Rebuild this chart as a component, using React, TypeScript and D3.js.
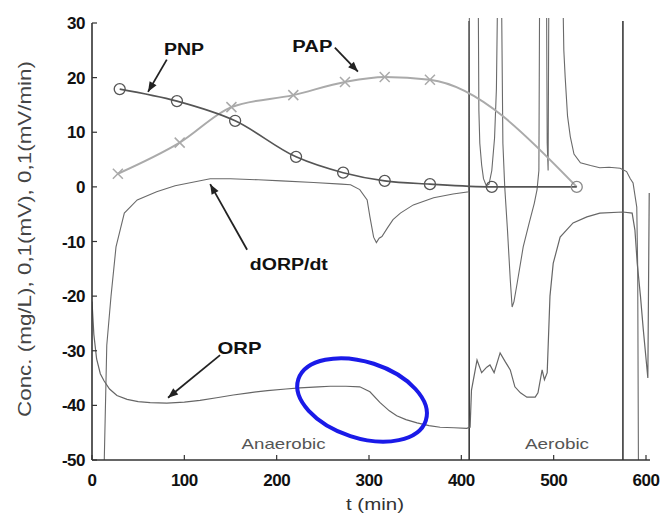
import React from "react";
import * as d3 from "d3";

// ---------- data ----------
const pnpT = [30, 92, 155, 221, 272, 317, 366, 433, 525];
const pnpV = [17.9, 15.7, 12.1, 5.5, 2.6, 1.1, 0.5, 0, 0];

const papT = [28, 95, 151, 218, 274, 317, 366, 525];
const papV = [2.4, 8.1, 14.6, 16.8, 19.2, 20.1, 19.6, 0];

const orpT = [0, 2, 5, 9, 13, 19, 27, 38, 50, 63, 81, 100, 117, 135, 153, 170, 190, 210, 225, 245, 258, 275, 290, 301, 312, 322, 330, 340, 352, 365, 377, 392, 406, 408.5,
  409.5, 411, 417, 422, 427.5, 431, 435.5, 442, 447.5, 453, 458, 464, 471, 480, 483, 487.5, 490, 493, 494, 496, 499.5, 507, 521, 536, 550, 575, 585, 588, 590.5, 594, 597, 602, 603.5];
const orpV = [-21, -27, -31.5, -34.2, -35.5, -37, -38.2, -38.9, -39.3, -39.5, -39.6, -39.4, -39.1, -38.6, -38.1, -37.7, -37.3, -37.0, -36.8, -36.6, -36.5, -36.5, -36.6, -37.5, -39.5, -41.0, -41.9, -42.6, -43.2, -43.7, -44.0, -44.1, -44.2, -44.0,
  -44, -37.2, -31.7, -34, -33, -32.6, -34, -30.4, -32, -33.5, -36.6, -37.7, -38.5, -38.5, -37.7, -33.5, -35.3, -34, -29.3, -20, -14, -9.2, -6.6, -5.5, -4.8, -4.6, -4.8, -7.9, -14, -20, -26, -35, -1.1];

const dorpT = [12, 16, 20.6, 26, 35, 49, 70, 90, 128, 150, 180, 205, 240, 270, 280, 290, 298, 301, 305, 308, 311, 314, 320, 326, 334, 348, 370, 391, 408,
  409, 418, 419, 420, 422, 424, 427, 430, 433, 436, 438, 440, 443, 445, 447, 450, 453, 455, 457, 460.5, 467, 473.5, 479, 482, 484, 485, 492, 493, 494, 495, 509,
  511, 512.5, 515, 518, 522, 529, 540, 550, 560, 572, 579, 583, 586, 588, 590, 591, 592];
const dorpV = [-60, -29, -20, -11, -4.8, -2.4, -0.9, 0.2, 1.5, 1.5, 1.3, 1.1, 0.8, 0.5, 0.4, -0.5, -2.4, -5.5, -9.2, -10.2, -9.4, -9.1, -7.5, -6, -4.8, -3.3, -2, -1.3, -0.9,
  45, 45, 14, 8, 4, 1.5, 0.2, 0.5, 3, 9, 18, 45, 45, 8, 0, -8, -17, -22, -21, -17.6, -11, -6.6, -3, -0.5, 3, 45, 45, 8, 3, 45, 45,
  25, 20, 13, 9.2, 6, 4.4, 3.9, 3.5, 3.6, 3.4, 2.8, 1.5, 0.7, -1.5, -3.7, -15, -60];

const phaseLines = [408.5, 575];
const xTicks = [0, 100, 200, 300, 400, 500, 600];
const yTicks = [-50, -40, -30, -20, -10, 0, 10, 20, 30];

// annotations in data units
const labels = [
  { text: "PNP", t: 78, v: 24.2, len: 40, size: 16, bold: true },
  { text: "PAP", t: 217, v: 24.6, len: 40, size: 16, bold: true },
  { text: "dORP/dt", t: 171, v: -15.2, len: 78, size: 16, bold: true },
  { text: "ORP", t: 136, v: -30.6, len: 44, size: 17, bold: true },
  { text: "Anaerobic", t: 162, v: -48.0, len: 84, size: 15, bold: false },
  { text: "Aerobic", t: 469, v: -48.0, len: 64, size: 15, bold: false },
];
const arrows = [
  { t1: 81, v1: 23.3, t2: 60.7, v2: 17.4 },
  { t1: 263, v1: 25.5, t2: 288, v2: 21.1 },
  { t1: 168, v1: -11.5, t2: 128, v2: 0.5 },
  { t1: 138.7, v1: -30.8, t2: 82.3, v2: -38.6 },
];
const highlight = { t: 292.5, v: -39, rx: 67, ry: 38, angle: 18 };

const FONT = "'Liberation Sans', Arial, Helvetica, sans-serif";

export default function App() {
  const W = 668, H = 520;
  const x = d3.scaleLinear().domain([0, 600]).range([92, 646]);
  const y = d3.scaleLinear().domain([-50, 30]).range([460, 23]);

  const line = d3.line<[number, number]>().x((d) => x(d[0])).y((d) => y(d[1]));
  const zip = (a: number[], b: number[]) => a.map((t, i) => [t, b[i]] as [number, number]);

  const pnp = zip(pnpT, pnpV);
  const pap = zip(papT, papV);
  const orp = zip(orpT, orpV);
  const dorp = zip(dorpT, dorpV);

  const arrowHead = (x1: number, y1: number, x2: number, y2: number) => {
    const a = Math.atan2(y2 - y1, x2 - x1);
    const L = 10, Wd = 4;
    const bx = x2 - L * Math.cos(a), by = y2 - L * Math.sin(a);
    const px = -Math.sin(a) * Wd, py = Math.cos(a) * Wd;
    return `M${x2},${y2}L${bx + px},${by + py}L${bx - px},${by - py}Z`;
  };

  return (
    <svg width={W} height={H} style={{ position: "absolute", left: 0, top: 0, background: "#fff" }} fontFamily={FONT}>
      <defs>
        <clipPath id="plot">
          <rect x={x(0)} y={18} width={x(600) - x(0) + 6} height={y(-50) - 18} />
        </clipPath>
      </defs>
      <rect width={W} height={H} fill="#fff" />

      {/* phase separators */}
      {phaseLines.map((t) => (
        <line key={t} x1={x(t)} x2={x(t)} y1={21} y2={y(-50)} stroke="#3a3a3a" strokeWidth={1.6} />
      ))}

      <g clipPath="url(#plot)">
        <path d={line(dorp) || ""} fill="none" stroke="#6a6a6a" strokeWidth={1.1} />
        <path d={line(orp) || ""} fill="none" stroke="#666" strokeWidth={1.2} />
      </g>

      {/* PAP */}
      <path d={line.curve(d3.curveMonotoneX)(pap) || ""} fill="none" stroke="#aaa" strokeWidth={2} />
      {pap.slice(0, -1).map(([t, v], i) => (
        <path key={i} d={`M${x(t) - 5},${y(v) - 5}L${x(t) + 5},${y(v) + 5}M${x(t) - 5},${y(v) + 5}L${x(t) + 5},${y(v) - 5}`} stroke="#aaa" strokeWidth={1.5} />
      ))}

      {/* PNP */}
      <path d={line.curve(d3.curveMonotoneX)(pnp) || ""} fill="none" stroke="#555" strokeWidth={1.6} />
      {pnp.map(([t, v], i) => (
        <circle key={i} cx={x(t)} cy={y(v)} r={5.5} fill="none" stroke={i === pnp.length - 1 ? "#888" : "#555"} strokeWidth={1.3} />
      ))}

      {/* highlight ellipse */}
      <ellipse cx={x(highlight.t)} cy={y(highlight.v)} rx={highlight.rx} ry={highlight.ry}
        transform={`rotate(${highlight.angle} ${x(highlight.t)} ${y(highlight.v)})`}
        fill="none" stroke="#1a1ae8" strokeWidth={4} />

      {/* axes */}
      <line x1={x(0)} x2={x(0)} y1={y(30)} y2={y(-50)} stroke="#333" strokeWidth={1.6} />
      <line x1={x(0)} x2={650} y1={y(-50)} y2={y(-50)} stroke="#333" strokeWidth={1.6} />
      {yTicks.map((v) => (
        <g key={v}>
          <line x1={x(0)} x2={x(0) + 5} y1={y(v)} y2={y(v)} stroke="#333" strokeWidth={1.2} />
          <text x={85} y={y(v)} dy="0.36em" textAnchor="end" fontSize={17} fontWeight="bold" fill="#111" letterSpacing={-0.5}>{v}</text>
        </g>
      ))}
      {xTicks.map((t) => (
        <g key={t}>
          <line x1={x(t)} x2={x(t)} y1={y(-50)} y2={y(-50) - 5} stroke="#333" strokeWidth={1.2} />
          <text x={x(t)} y={486} textAnchor="middle" fontSize={17} fontWeight="bold" fill="#111" letterSpacing={-0.5}>{t}</text>
        </g>
      ))}

      <text x={375} y={510} textAnchor="middle" fontSize={17} fill="#333" textLength={58} lengthAdjust="spacingAndGlyphs">t (min)</text>
      <text transform={`translate(31,239) rotate(-90)`} textAnchor="middle" fontSize={18} fill="#444" textLength={356} lengthAdjust="spacingAndGlyphs">Conc. (mg/L), 0,1(mV), 0,1(mV/min)</text>

      {/* annotation labels and arrows */}
      {labels.map((l) => (
        <text key={l.text} x={x(l.t)} y={y(l.v)} fontSize={l.size} fontWeight={l.bold ? "bold" : "normal"}
          fill={l.bold ? "#111" : "#555"} textLength={l.len} lengthAdjust="spacingAndGlyphs">{l.text}</text>
      ))}
      {arrows.map((a, i) => {
        const x1 = x(a.t1), y1 = y(a.v1), x2 = x(a.t2), y2 = y(a.v2);
        return (
          <g key={i}>
            <line x1={x1} y1={y1} x2={x2} y2={y2} stroke="#222" strokeWidth={1.8} />
            <path d={arrowHead(x1, y1, x2, y2)} fill="#222" />
          </g>
        );
      })}
    </svg>
  );
}
